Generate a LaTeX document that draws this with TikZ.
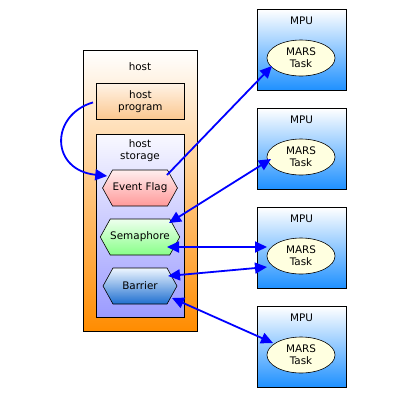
\documentclass[tikz,border=0pt]{standalone}
\usepackage{fontspec}
\setmainfont{DejaVu Sans}
\usetikzlibrary{arrows.meta,shapes.symbols,shapes.geometric,calc}
\definecolor{hostbot}{RGB}{255,140,0}
\definecolor{hptop}{RGB}{255,243,230}
\definecolor{hpbot}{RGB}{251,199,143}
\definecolor{hstop}{RGB}{248,248,255}
\definecolor{hsbot}{RGB}{155,155,255}
\definecolor{eftop}{RGB}{255,238,238}
\definecolor{efbot}{RGB}{255,153,153}
\definecolor{setop}{RGB}{238,255,238}
\definecolor{sebot}{RGB}{136,255,136}
\definecolor{batop}{RGB}{238,246,255}
\definecolor{babot}{RGB}{31,111,208}
\definecolor{mpubot}{RGB}{30,144,255}
\definecolor{taskfill}{RGB}{255,255,224}
\begin{document}
\begin{tikzpicture}[x=1pt,y=-1pt,
  txt/.style={font=\fontsize{10.4}{12}\selectfont, align=center, inner sep=0},
  box/.style={draw=black, line width=0.8pt, inner sep=0, anchor=north west},
  hexa/.style={signal, signal to=west and east, signal pointer angle=122,
    draw=black, line width=0.6pt, minimum width=74pt, minimum height=36pt,
    inner sep=0, txt},
  mpubox/.style={box, minimum width=89pt, minimum height=81pt, top color=white, bottom color=mpubot},
  task/.style={ellipse, draw=black, line width=0.6pt, fill=taskfill, minimum width=68pt, minimum height=36pt, txt},
  arr/.style={draw=blue, line width=1.8pt},
  tip/.tip={Triangle[length=12pt,width=11pt]}
]
\useasboundingbox (0,0) rectangle (400,400);
% host
\node[box, minimum width=114pt, minimum height=281pt, top color=white, bottom color=hostbot] (host) at (83,50) {};
\node[txt] (hostlbl) at (140,67) {host};
\node[box, minimum width=88pt, minimum height=36pt, top color=hptop, bottom color=hpbot] (hp) at (96,83) {};
\node[txt] (hplbl) at (hp.center) {host\\program};
\node[box, minimum width=88pt, minimum height=183pt, top color=hstop, bottom color=hsbot] (hs) at (96,134) {};
\node[txt] (hslbl) at (140,151) {host\\storage};
\node[hexa, top color=eftop, bottom color=efbot] (ef) at (140,188) {Event Flag};
\node[hexa, top color=setop, bottom color=sebot] (sem) at (140,237) {Semaphore};
\node[hexa, top color=batop, bottom color=babot] (bar) at (140,286) {Barrier};
% MPUs
\foreach \i/\t in {1/9,2/108,3/207,4/306}{
  \node[mpubox] (m\i) at (257,\t) {};
  \node[txt] (ml\i) at (301.5,\t+12) {MPU};
  \node[task] (e\i) at (301,\t+49) {MARS\\Task};
}
% connectors
\draw[arr,-tip] ($(hp.west)+(-3,1)$) .. controls (50,115) and (50,170) .. ($(ef.west)+(5,-12)$);
\draw[arr,-tip] ($(ef.center)+(27,-13)$) -- ($(e1.center)+(-29,8)$);
\draw[arr,tip-tip] ($(e2.center)+(-30,2)$) -- ($(sem.center)+(29,-14)$);
\draw[arr,tip-tip] ($(sem.center)+(27,10)$) -- ($(e3.center)+(-34,-9)$);
\draw[arr,tip-tip] ($(bar.center)+(28,-10)$) -- ($(e3.center)+(-34,11)$);
\draw[arr,tip-tip] ($(bar.center)+(32,12)$) -- ($(e4.center)+(-28,-12)$);
\end{tikzpicture}
\end{document}
